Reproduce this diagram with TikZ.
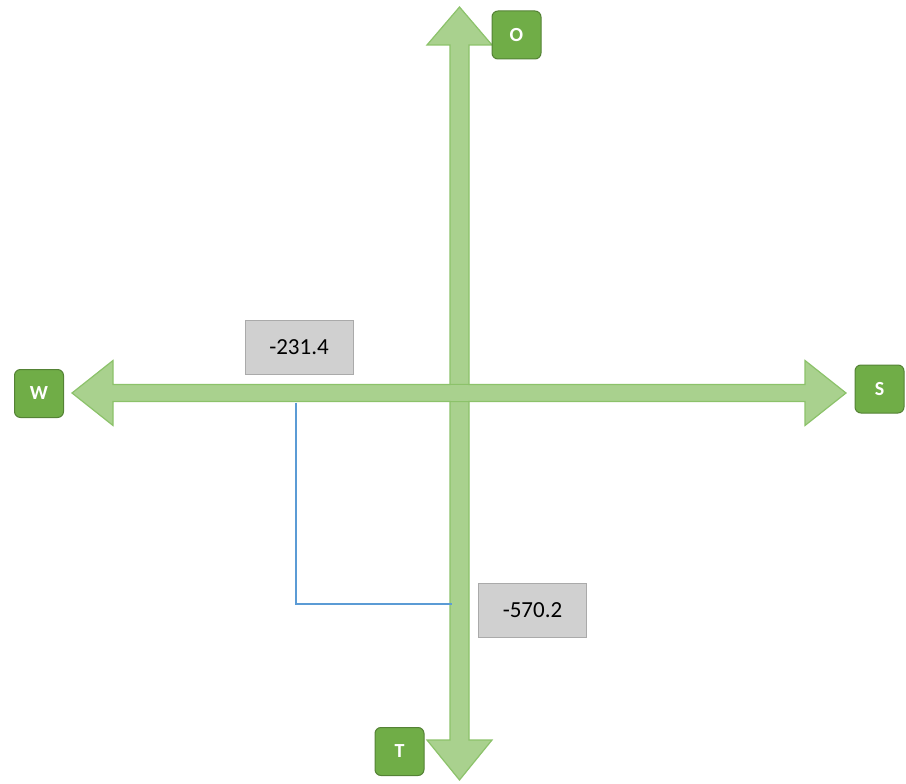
\documentclass[tikz,border=0pt]{standalone}
\usepackage{fontspec}
\setmainfont{Carlito}
\definecolor{arrowfill}{HTML}{A9D18E}
\definecolor{arrowline}{HTML}{8CC26A}
\definecolor{boxfill}{HTML}{70AD47}
\definecolor{boxline}{HTML}{548235}
\definecolor{grayfill}{HTML}{D0D0D0}
\definecolor{grayline}{HTML}{AAAAAA}
\definecolor{blueline}{HTML}{5B9BD5}
\begin{document}
\begin{tikzpicture}[x=1pt,y=-1pt,
  arrowshape/.style={fill=arrowfill,draw=arrowline,line width=1.2pt,line join=miter},
  letterbox/.style={fill=boxfill,draw=boxline,line width=1pt,rounded corners=6pt,minimum width=49pt,minimum height=48pt,inner sep=0pt,text=white,font=\fontsize{20}{20}\selectfont\bfseries},
  valuebox/.style={fill=grayfill,draw=grayline,line width=1pt,minimum width=108pt,minimum height=54pt,inner sep=0pt,font=\fontsize{23}{23}\selectfont},
  guide/.style={draw=blueline,line width=1.5pt}]
\useasboundingbox (0,0) rectangle (906,784);
% vertical double arrow
\path[arrowshape] (450,45) -- (427,45) -- (459.5,7) -- (492,45) -- (469,45) -- (469,740) -- (492,740) -- (459.5,780) -- (427,740) -- (450,740) -- cycle;
% horizontal double arrow
\path[arrowshape] (113,384.5) -- (113,360.5) -- (72,393) -- (113,425.5) -- (113,401.5) -- (805,401.5) -- (805,425.5) -- (846,393) -- (805,360.5) -- (805,384.5) -- cycle;
\fill[arrowfill] (450.6,385.1) rectangle (468.4,400.9);
% direction labels
\node[letterbox] (O) at (516.5,35) {O};
\node[letterbox] (W) at (39,393.5) {W};
\node[letterbox] (S) at (879.5,389) {S};
\node[letterbox] (T) at (399.5,751.5) {T};
% value labels
\node[valuebox] (v1) at (299,347.5) {-231.4};
\node[valuebox] (v2) at (532.5,610.5) {-570.2};
% guide lines
\coordinate (g1) at (296,402.5);
\coordinate (g2) at (296,604);
\coordinate (g3) at (452,604);
\draw[guide] (g1) -- (g2) -- (g3);
\end{tikzpicture}
\end{document}
